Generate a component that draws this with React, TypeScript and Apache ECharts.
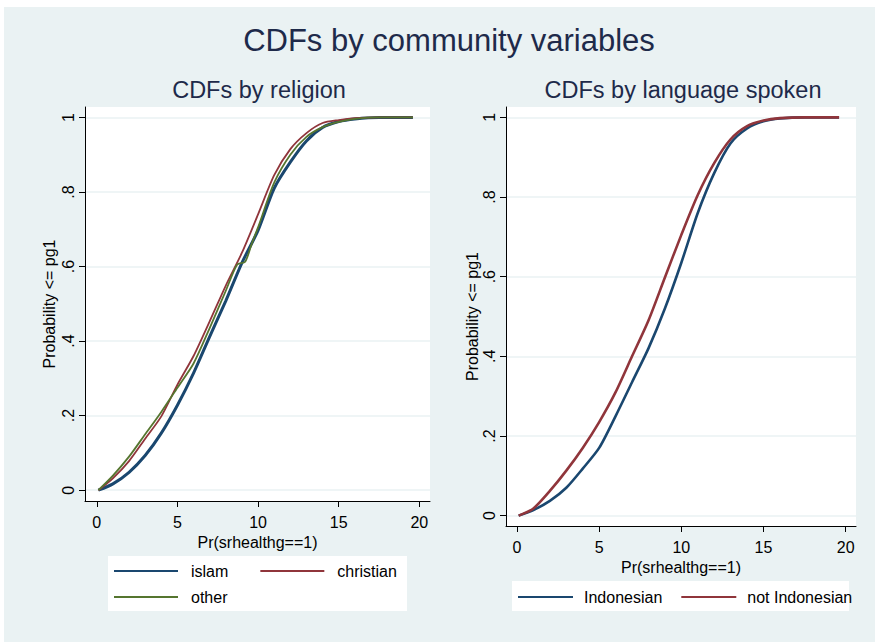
import React, { useEffect, useRef } from "react";
import * as echarts from "echarts";

// ---------- data ----------
const xTicks = [0, 5, 10, 15, 20];
const yTicks = [0, 0.2, 0.4, 0.6, 0.8, 1];

const religionX = [0.1, 1, 2, 3, 4, 5, 6, 7, 8, 9, 10, 11, 12, 13, 14, 15, 16, 17.5, 19.6];
const islamY = [0, 0.017, 0.048, 0.093, 0.153, 0.228, 0.314, 0.412, 0.508, 0.61, 0.697, 0.81, 0.88, 0.937, 0.973, 0.989, 0.996, 1, 1];
const christianY = [0, 0.032, 0.078, 0.138, 0.198, 0.283, 0.36, 0.453, 0.549, 0.637, 0.74, 0.845, 0.915, 0.958, 0.985, 0.993, 0.998, 1, 1];
const otherX = [0.1, 1, 2, 3, 4, 5, 6, 7, 8, 8.7, 9.2, 9.6, 10, 11, 12, 13, 14, 15, 16, 17.5, 19.6];
const otherY = [0, 0.039, 0.09, 0.15, 0.21, 0.275, 0.34, 0.435, 0.535, 0.605, 0.613, 0.66, 0.705, 0.825, 0.9, 0.948, 0.974, 0.988, 0.996, 1, 1];

const languageX = [0.1, 1, 2, 3, 4, 5, 6, 7, 8, 9, 10, 11, 12, 13, 14, 15, 16, 17.5, 19.6];
const indonesianY = [0, 0.014, 0.037, 0.07, 0.118, 0.17, 0.25, 0.335, 0.42, 0.52, 0.635, 0.76, 0.86, 0.935, 0.972, 0.99, 0.997, 1, 1];
const notIndonesianY = [0, 0.018, 0.062, 0.113, 0.17, 0.235, 0.31, 0.4, 0.49, 0.598, 0.705, 0.805, 0.885, 0.945, 0.978, 0.992, 0.998, 1, 1];

const NAVY = "#1a476f";
const MAROON = "#90353b";
const GREEN = "#55752f";
const BG = "#eaf2f3";
const TITLE = "#1e2a4a";
const FONT = "Liberation Sans, Arial, Helvetica, sans-serif";

const pairs = (xs: number[], ys: number[]) => xs.map((x, i) => [x, ys[i]]);
const fmtY = (v: number) => (v === 0 ? "0" : v === 1 ? "1" : "." + Math.round(v * 10));

function xAxisFor(gridIndex: number, min: number, max: number) {
  return {
    type: "value",
    gridIndex,
    min,
    max,
    name: "Pr(srhealthg==1)",
    nameLocation: "middle",
    nameGap: 29,
    nameTextStyle: { fontSize: 16, color: "#000", fontFamily: FONT },
    axisLine: { show: true, onZero: false, lineStyle: { color: "#000", width: 1 } },
    axisTick: { show: true, length: 6, customValues: xTicks, lineStyle: { color: "#000", width: 1 } },
    axisLabel: { customValues: xTicks, fontSize: 16, color: "#000", margin: 13, fontFamily: FONT },
    splitLine: { show: false },
  };
}

function yAxisFor(gridIndex: number, min: number, max: number, nameGap: number) {
  return {
    type: "value",
    gridIndex,
    min,
    max,
    name: "Probability <= pg1",
    nameLocation: "middle",
    nameGap,
    nameTextStyle: { fontSize: 16, color: "#000", fontFamily: FONT },
    axisLine: { show: true, onZero: false, lineStyle: { color: "#000", width: 1 } },
    axisTick: { show: true, length: 6, customValues: yTicks, lineStyle: { color: "#000", width: 1 } },
    axisLabel: {
      customValues: yTicks,
      rotate: 90,
      formatter: fmtY,
      fontSize: 16,
      color: "#000",
      margin: 9,
      fontFamily: FONT,
    },
    splitLine: { show: true, lineStyle: { color: BG, width: 1.5 } },
  };
}

function lineSeries(name: string, data: number[][], color: string, width: number, idx: number) {
  return {
    type: "line",
    name,
    xAxisIndex: idx,
    yAxisIndex: idx,
    data,
    symbol: "none",
    showSymbol: false,
    smooth: 0.25,
    lineStyle: { color, width },
    itemStyle: { color },
  };
}

const legendText = (pad: number) => ({
  fontSize: 16,
  color: "#000",
  fontFamily: FONT,
  padding: [0, 0, 0, pad],
});

export default function App() {
  const ref = useRef<HTMLDivElement>(null);

  useEffect(() => {
    if (!ref.current) return;
    const chart = echarts.init(ref.current, undefined, { renderer: "svg" });
    const option: any = {
      animation: false,
      backgroundColor: "#ffffff",
      textStyle: { fontFamily: FONT },
      title: [
        {
          text: "CDFs by community variables",
          left: 449,
          top: 25,
          padding: 0,
          textAlign: "center",
          textStyle: { fontSize: 31, fontWeight: "normal", color: TITLE, fontFamily: FONT },
        },
        {
          text: "CDFs by religion",
          left: 259,
          top: 78,
          padding: 0,
          textAlign: "center",
          textStyle: { fontSize: 23.5, fontWeight: "normal", color: TITLE, fontFamily: FONT },
        },
        {
          text: "CDFs by language spoken",
          left: 683,
          top: 78,
          padding: 0,
          textAlign: "center",
          textStyle: { fontSize: 23.5, fontWeight: "normal", color: TITLE, fontFamily: FONT },
        },
      ],
      graphic: {
        elements: [
          { type: "rect", z: -100, silent: true, shape: { x: 4, y: 7, width: 871, height: 635 }, style: { fill: BG } },
          { type: "rect", z: -90, silent: true, shape: { x: 108, y: 556, width: 299, height: 55 }, style: { fill: "#ffffff" } },
          { type: "rect", z: -90, silent: true, shape: { x: 512, y: 581, width: 337, height: 30 }, style: { fill: "#ffffff" } },
        ],
      },
      grid: [
        { left: 85, top: 107, width: 345, height: 394, show: true, backgroundColor: "#ffffff", borderWidth: 0 },
        { left: 506, top: 107, width: 350, height: 419, show: true, backgroundColor: "#ffffff", borderWidth: 0 },
      ],
      xAxis: [xAxisFor(0, -0.73, 20.66), xAxisFor(1, -0.67, 20.63)],
      yAxis: [yAxisFor(0, -0.029, 1.028, 28), yAxisFor(1, -0.026, 1.026, 22)],
      legend: [
        {
          data: ["islam", "christian"],
          left: 114,
          top: 563,
          padding: 0,
          icon: "rect",
          itemWidth: 64,
          itemHeight: 2,
          itemGap: 32,
          selectedMode: false,
          itemStyle: { borderWidth: 0 },
          textStyle: legendText(8),
        },
        {
          data: ["other"],
          left: 114,
          top: 589,
          padding: 0,
          icon: "rect",
          itemWidth: 64,
          itemHeight: 2,
          selectedMode: false,
          itemStyle: { borderWidth: 0 },
          textStyle: legendText(8),
        },
        {
          data: ["Indonesian", "not Indonesian"],
          left: 518,
          top: 589,
          padding: 0,
          icon: "rect",
          itemWidth: 55,
          itemHeight: 2,
          itemGap: 19,
          selectedMode: false,
          itemStyle: { borderWidth: 0 },
          textStyle: legendText(6),
        },
      ],
      series: [
        lineSeries("islam", pairs(religionX, islamY), NAVY, 3, 0),
        lineSeries("christian", pairs(religionX, christianY), MAROON, 1.8, 0),
        lineSeries("other", pairs(otherX, otherY), GREEN, 1.8, 0),
        lineSeries("Indonesian", pairs(languageX, indonesianY), NAVY, 2.6, 1),
        lineSeries("not Indonesian", pairs(languageX, notIndonesianY), MAROON, 2.6, 1),
      ],
    };
    chart.setOption(option);
    return () => chart.dispose();
  }, []);

  return (
    <div
      ref={ref}
      style={{ position: "fixed", left: 0, top: 0, width: 875, height: 642 }}
    />
  );
}
